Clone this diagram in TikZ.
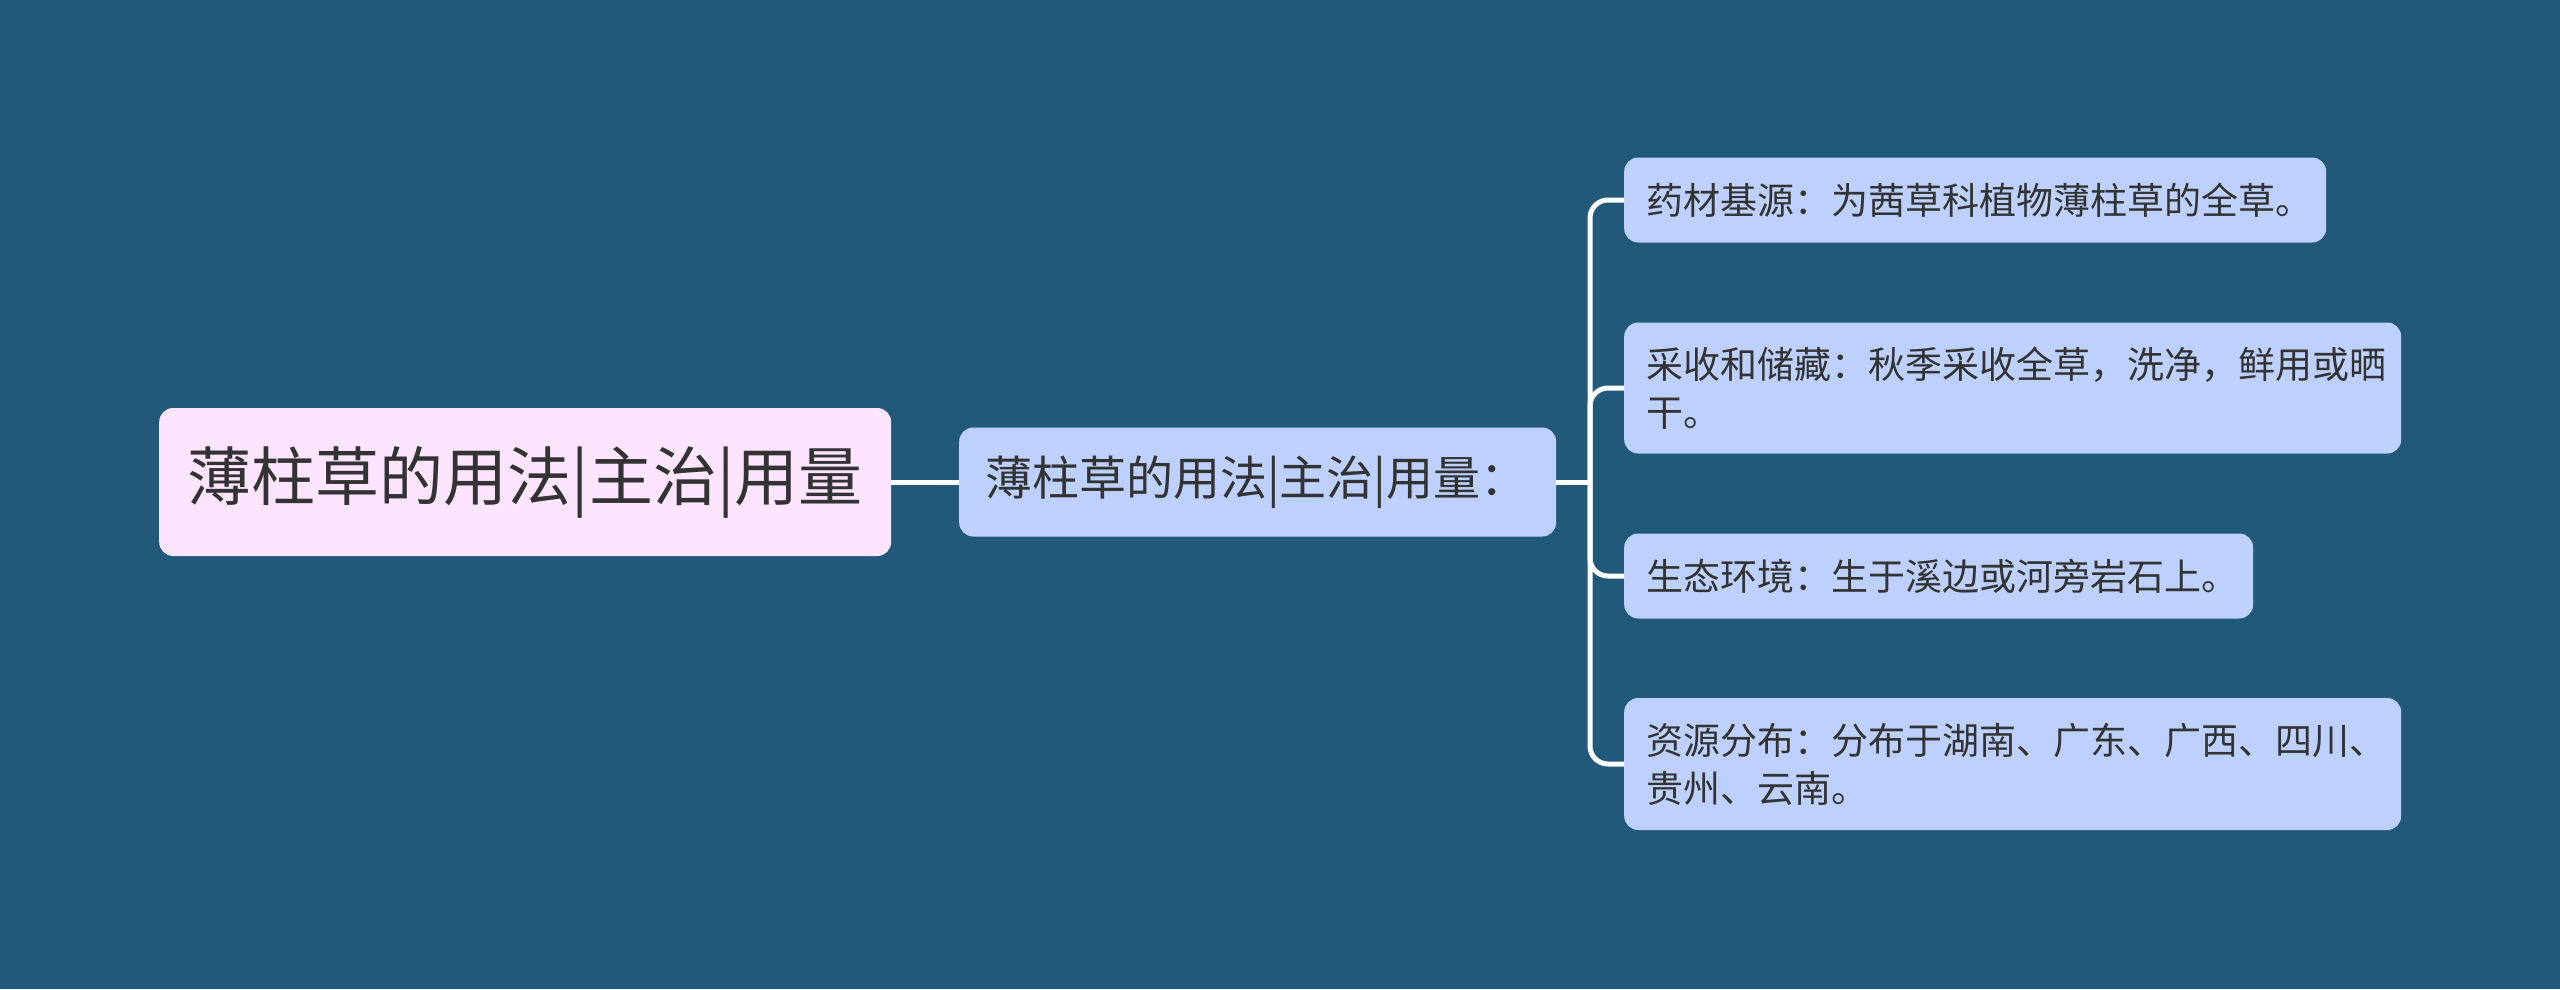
\documentclass[tikz,border=0pt]{standalone}
\usepackage{fontspec}
\newfontfamily\cjk{Noto Sans CJK SC}
\definecolor{bgblue}{HTML}{22587A}
\definecolor{rootpink}{HTML}{FDE4FF}
\definecolor{leafblue}{HTML}{BDD0FE}
\definecolor{inkgrey}{HTML}{333333}
\begin{document}
\begin{tikzpicture}[x=1pt,y=-1pt,
    box/.style={rounded corners=14pt, inner ysep=0pt, text=inkgrey, anchor=west},
    rootbox/.style={box, fill=rootpink, inner xsep=0pt, minimum width=732pt, minimum height=148pt,
        font=\cjk\fontsize{64}{70}\selectfont},
    midbox/.style={box, fill=leafblue, inner xsep=26pt, align=left, minimum height=109pt,
        font=\cjk\fontsize{47}{54}\selectfont},
    leafbox/.style={box, fill=leafblue, inner xsep=22pt, align=left,
        font=\cjk\fontsize{37}{48}\selectfont},
    branch/.style={draw=white, line width=5pt, rounded corners=18pt}]
        \fill[bgblue] (0,0) rectangle (2560,989);
        \useasboundingbox (0,0) rectangle (2560,989);

        \node[rootbox] (root) at (159,482) {薄柱草的用法|主治|用量};
        \node[midbox, text width=545pt] (mid) at (959,482) {薄柱草的用法|主治|用量：};

        \node[leafbox, text width=658pt, minimum height=85pt] (herb) at (1624,200) {药材基源：为茜草科植物薄柱草的全草。};
        \node[leafbox, text width=733pt, minimum height=131pt] (harvest) at (1624,388) {采收和储藏：秋季采收全草，洗净，鲜用或晒\\干。};
        \node[leafbox, text width=585pt, minimum height=85pt] (habitat) at (1624,576) {生态环境：生于溪边或河旁岩石上。};
        \node[leafbox, text width=733pt, minimum height=132pt] (range) at (1624,764) {资源分布：分布于湖南、广东、广西、四川、\\贵州、云南。};

        \coordinate (spine) at (1590,482);
        \draw[branch] (root.east) -- (mid.west);
        \draw[branch] (mid.east) -- (spine);
        \foreach \leaf in {herb,harvest,habitat,range} {
            \draw[branch] (spine) |- (\leaf.west);
        }
    \end{tikzpicture}
\end{document}
